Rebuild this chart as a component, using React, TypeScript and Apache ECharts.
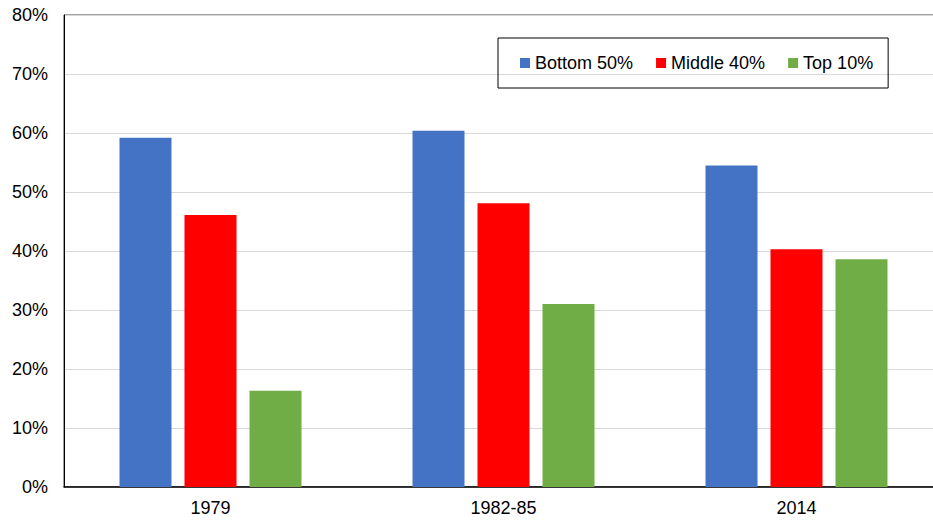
import React, { useEffect, useRef } from "react";
import * as echarts from "echarts";

const categories = ["1979", "1982-85", "2014"];
const bottom50 = [59.2, 60.4, 54.5];
const middle40 = [46.1, 48.1, 40.3];
const top10 = [16.3, 31.0, 38.6];
const seriesNames = ["Bottom 50%", "Middle 40%", "Top 10%"];
const colors = ["#4472C4", "#FF0000", "#70AD47"];

export default function App() {
  const ref = useRef<HTMLDivElement>(null);
  useEffect(() => {
    if (!ref.current) return;
    const chart = echarts.init(ref.current, undefined, { renderer: "svg" });
    const font = "Liberation Sans, Arial, sans-serif";
    const data = [bottom50, middle40, top10];
    chart.setOption({
      animation: false,
      textStyle: { fontFamily: font },
      grid: {
        left: 64,
        top: 15,
        right: 2,
        bottom: 34,
        show: true,
        borderColor: "#404040",
        borderWidth: 1,
        containLabel: false,
      },
      legend: {
        left: 498,
        top: 38,
        orient: "horizontal",
        padding: [16, 15, 16, 22],
        borderColor: "#000",
        borderWidth: 1,
        itemWidth: 10,
        itemHeight: 10,
        itemGap: 23,
        icon: "rect",
        textStyle: { fontSize: 18, color: "#000", fontFamily: font },
        data: seriesNames,
      },
      xAxis: {
        type: "category",
        data: categories,
        axisLine: { show: true, lineStyle: { color: "#000", width: 1.5 } },
        axisTick: { show: false },
        axisLabel: { fontSize: 18, color: "#000", margin: 12, fontFamily: font },
      },
      yAxis: {
        type: "value",
        min: 0,
        max: 80,
        interval: 10,
        axisLine: { show: true, lineStyle: { color: "#000" } },
        axisTick: { show: false },
        splitLine: { lineStyle: { color: "#d9d9d9", width: 1 } },
        axisLabel: {
          fontSize: 18,
          color: "#000",
          margin: 16,
          fontFamily: font,
          formatter: (v: number) => v + "%",
        },
      },
      series: seriesNames.map((name, i) => ({
        name,
        type: "bar",
        data: data[i],
        barWidth: 52,
        barGap: "25%",
        itemStyle: { color: colors[i] },
      })),
    });
    return () => chart.dispose();
  }, []);
  return (
    <div style={{ position: "fixed", left: 0, top: 0, width: 933, height: 521, overflow: "hidden", background: "#fff" }}>
      <div ref={ref} style={{ width: 945, height: 521 }} />
    </div>
  );
}
